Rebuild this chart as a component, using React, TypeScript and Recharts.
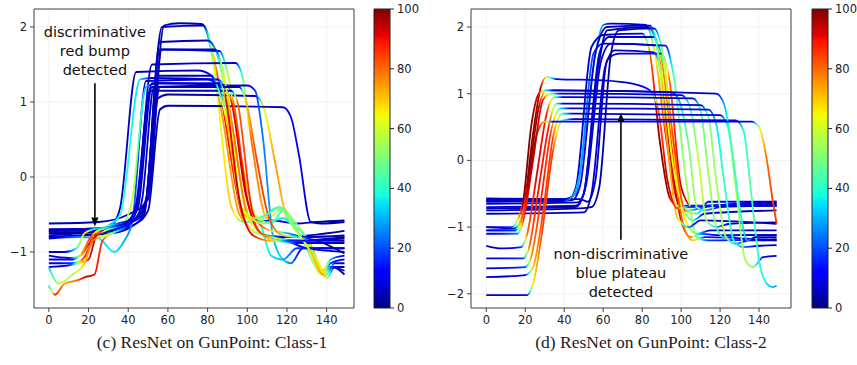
import {
  Bar,
  BarChart,
  CartesianGrid,
  Line,
  LineChart,
  ReferenceArea,
  ReferenceLine,
  XAxis,
  YAxis,
} from 'recharts';

// One point of a GunPoint series: [time step, value, attribution 0–100].
type Pt = [number, number, number];

const X_TICKS = [0, 20, 40, 60, 80, 100, 120, 140];
const CLASS1_Y_TICKS = [-1, 0, 1, 2];
const CLASS2_Y_TICKS = [-2, -1, 0, 1, 2];
const CBAR_TICKS = [0, 20, 40, 60, 80, 100];

const CLASS1_NOTE = ['discriminative', 'red bump', 'detected'];
const CLASS2_NOTE = ['non-discriminative', 'blue plateau', 'detected'];

const CLASS1_CAPTION = '(c) ResNet on GunPoint: Class-1';
const CLASS2_CAPTION = '(d) ResNet on GunPoint: Class-2';

// Class-1 samples.
const class1Series: Pt[][] = [
  [[0, -0.62, 5], [25, -0.6, 5], [40, -0.5, 6], [50, -0.3, 6], [58, 2.02, 5], [66, 2.05, 3], [77, 2.04, 5], [80, 1.9, 25], [83, 1.5, 60], [92, -0.4, 70], [98, -0.6, 45], [112, -0.58, 12], [125, -0.62, 5], [135, -0.6, 3], [149, -0.58, 3]],
  [[0, -0.72, 5], [28, -0.7, 6], [40, -0.62, 8], [48, -0.45, 6], [57, 2.0, 5], [78, 2.02, 5], [81, 1.85, 50], [86, 1.2, 90], [98, -0.55, 85], [105, -0.75, 60], [118, -0.8, 6], [149, -0.72, 3]],
  [[0, -0.75, 5], [30, -0.72, 6], [42, -0.6, 12], [48, -0.5, 8], [56, 1.8, 5], [80, 1.82, 5], [84, 1.7, 30], [90, 1.0, 75], [101, -0.55, 70], [110, -0.8, 40], [125, -0.85, 6], [149, -0.8, 3]],
  [[0, -0.8, 5], [32, -0.75, 6], [44, -0.62, 8], [48, -0.5, 6], [56, 1.7, 5], [86, 1.68, 12], [90, 1.4, 55], [96, 0.4, 75], [104, -0.5, 65], [112, -0.62, 45], [118, -0.45, 40], [124, -0.6, 50], [132, -0.9, 70], [138, -1.25, 80], [142, -1.1, 30], [149, -1.05, 5]],
  [[0, -0.7, 5], [30, -0.68, 6], [40, -0.58, 8], [44, -0.4, 8], [52, 1.5, 6], [94, 1.52, 6], [97, 1.4, 40], [102, 0.5, 80], [110, -0.55, 70], [118, -0.42, 50], [125, -0.7, 55], [135, -1.1, 75], [140, -1.35, 60], [144, -1.2, 6], [149, -1.2, 3]],
  [[0, -0.8, 5], [26, -0.75, 6], [32, -0.65, 8], [36, -0.4, 6], [44, 1.4, 5], [75, 1.42, 5], [82, 1.35, 12], [86, 1.0, 75], [96, -0.5, 75], [105, -0.75, 55], [115, -0.8, 15], [130, -0.95, 5], [149, -1.0, 3]],
  [[0, -0.78, 5], [24, -0.72, 12], [30, -0.65, 30], [36, -0.5, 40], [46, 1.3, 35], [52, 1.32, 6], [85, 1.3, 6], [90, 1.1, 60], [97, -0.4, 65], [104, -0.62, 55], [114, -0.42, 45], [120, -0.5, 55], [128, -0.85, 40], [138, -1.3, 70], [142, -1.15, 15], [149, -1.1, 3]],
  [[0, -0.72, 5], [30, -0.7, 5], [42, -0.6, 6], [48, -0.45, 6], [55, 1.05, 5], [60, 1.1, 3], [104, 1.08, 6], [108, 0.95, 60], [114, 0.2, 75], [120, -0.55, 70], [128, -0.75, 40], [135, -1.1, 60], [140, -1.3, 70], [144, -1.15, 12], [149, -1.15, 3]],
  [[0, -0.75, 3], [30, -0.73, 3], [44, -0.62, 5], [50, -0.45, 5], [56, 0.9, 3], [60, 0.95, 3], [118, 0.93, 5], [122, 0.8, 12], [126, 0.3, 12], [132, -0.6, 5], [137, -0.62, 3], [149, -0.6, 3]],
  [[0, -0.7, 5], [30, -0.68, 6], [40, -0.6, 8], [45, -0.4, 6], [52, 1.2, 5], [100, 1.22, 6], [104, 1.15, 18], [108, 0.5, 25], [113, -0.8, 30], [118, -1.1, 35], [122, -1.15, 25], [128, -0.95, 8], [149, -0.95, 5]],
  [[0, -0.82, 6], [15, -0.8, 25], [25, -0.82, 35], [33, -1.0, 35], [38, -0.85, 30], [42, -0.6, 25], [49, 1.28, 6], [80, 1.3, 6], [86, 1.2, 18], [90, 0.8, 70], [98, -0.5, 75], [106, -0.6, 40], [112, -1.05, 35], [118, -1.1, 30], [125, -0.95, 18], [149, -0.95, 5]],
  [[0, -1.05, 5], [10, -1.08, 8], [16, -1.05, 70], [20, -0.9, 90], [24, -0.72, 75], [30, -0.68, 40], [38, -0.6, 50], [42, -0.3, 60], [49, 1.2, 30], [55, 1.25, 6], [90, 1.22, 6], [93, 1.0, 80], [100, -0.3, 92], [107, -0.75, 88], [115, -0.82, 60], [125, -0.85, 18], [149, -0.82, 3]],
  [[0, -1.15, 5], [12, -1.15, 18], [17, -1.1, 85], [22, -0.85, 95], [26, -0.7, 70], [35, -0.62, 18], [44, -0.55, 6], [47, -0.3, 8], [53, 1.2, 5], [88, 1.2, 6], [92, 1.0, 90], [99, -0.2, 95], [106, -0.72, 85], [114, -0.85, 60], [125, -0.88, 12], [149, -0.88, 3]],
  [[0, -1.2, 5], [10, -1.18, 8], [15, -1.15, 60], [20, -1.1, 90], [24, -0.78, 95], [30, -0.7, 50], [40, -0.6, 8], [44, -0.35, 6], [51, 1.15, 5], [92, 1.15, 6], [95, 1.0, 80], [103, -0.5, 90], [110, -0.7, 75], [120, -0.75, 30], [130, -0.8, 6], [149, -0.78, 3]],
  [[0, -1.0, 5], [8, -1.0, 6], [14, -0.95, 40], [18, -0.75, 70], [22, -0.7, 40], [35, -0.65, 8], [46, -0.5, 6], [50, -0.2, 6], [57, 1.7, 5], [84, 1.7, 6], [87, 1.5, 55], [93, 0.6, 80], [100, -0.5, 75], [108, -0.62, 50], [118, -0.55, 35], [126, -0.75, 45], [133, -1.05, 60], [139, -1.32, 70], [143, -1.2, 6], [149, -1.3, 3]],
  [[0, -1.1, 5], [12, -1.1, 12], [17, -1.0, 75], [21, -0.8, 85], [26, -0.7, 45], [38, -0.62, 6], [46, -0.5, 6], [50, -0.2, 6], [56, 1.2, 5], [96, 1.2, 5], [99, 1.05, 70], [105, 0.2, 85], [111, -0.55, 85], [118, -0.78, 70], [126, -0.8, 30], [135, -0.85, 6], [149, -1.02, 3]],
  [[0, -1.2, 30], [5, -1.42, 60], [12, -1.3, 55], [18, -1.15, 70], [22, -0.85, 80], [28, -0.78, 60], [36, -0.7, 18], [45, -0.5, 8], [50, -0.2, 6], [55, 1.35, 5], [82, 1.35, 5], [85, 1.2, 40], [90, 0.7, 70], [97, -0.4, 70], [104, -0.55, 50], [110, -0.5, 40], [116, -0.4, 45], [124, -0.7, 55], [132, -1.0, 70], [138, -1.3, 75], [142, -1.2, 18], [149, -1.25, 3]],
  [[0, -1.45, 35], [3, -1.57, 90], [8, -1.42, 75], [14, -1.38, 80], [19, -1.33, 95], [23, -1.3, 90], [27, -0.85, 85], [32, -0.75, 50], [40, -0.65, 12], [44, -0.45, 8], [52, 1.25, 6], [86, 1.25, 6], [89, 1.05, 90], [96, -0.3, 95], [103, -0.78, 90], [112, -0.85, 70], [120, -0.85, 18], [149, -0.85, 3]],
];

// Class-2 samples.
const class2Series: Pt[][] = [
  [[0, -0.57, 6], [40, -0.58, 6], [46, -0.5, 25], [50, 0.2, 35], [56, 1.6, 35], [60, 2.03, 25], [64, 2.05, 6], [82, 2.03, 8], [86, 1.7, 60], [92, 0.4, 90], [98, -0.6, 88], [104, -0.75, 40], [112, -0.7, 6], [149, -0.62, 5]],
  [[0, -0.6, 6], [44, -0.6, 6], [48, -0.4, 8], [56, 1.6, 6], [62, 2.0, 5], [84, 2.02, 6], [88, 1.7, 70], [94, 0.2, 95], [100, -0.9, 90], [105, -1.15, 80], [110, -1.1, 25], [118, -1.12, 6], [149, -1.12, 5]],
  [[0, -0.62, 6], [42, -0.6, 6], [46, -0.4, 8], [54, 1.7, 6], [60, 1.88, 5], [80, 1.9, 6], [84, 1.6, 80], [89, 0.3, 100], [94, -0.55, 95], [98, -0.68, 60], [104, -0.68, 6], [149, -0.68, 5]],
  [[0, -0.7, 6], [46, -0.68, 6], [50, -0.5, 8], [58, 1.6, 6], [63, 1.85, 5], [86, 1.85, 8], [90, 1.5, 75], [96, 0.0, 88], [101, -0.95, 80], [106, -1.2, 70], [112, -1.15, 15], [149, -1.2, 5]],
  [[0, -0.65, 6], [47, -0.63, 6], [51, -0.4, 8], [59, 1.5, 6], [64, 1.75, 5], [88, 1.72, 18], [92, 1.3, 65], [98, -0.3, 70], [103, -0.95, 65], [108, -1.1, 40], [115, -1.05, 6], [149, -1.05, 5]],
  [[0, -0.8, 6], [50, -0.78, 6], [54, -0.5, 8], [61, 1.4, 6], [66, 1.65, 5], [86, 1.62, 8], [90, 1.3, 60], [96, -0.1, 65], [101, -0.72, 60], [106, -0.9, 40], [112, -0.8, 8], [149, -0.75, 5]],
  [[0, -0.58, 6], [48, -0.58, 5], [52, -0.62, 5], [56, -0.3, 6], [62, 1.5, 5], [68, 1.6, 5], [90, 1.6, 18], [94, 1.2, 80], [100, -0.4, 95], [106, -0.7, 85], [112, -0.68, 15], [149, -0.66, 5]],
  [[0, -0.75, 3], [48, -0.72, 3], [54, -0.7, 3], [58, -0.4, 3], [64, 1.6, 3], [68, 1.95, 5], [86, 1.98, 6], [90, 1.7, 50], [96, 0.3, 85], [102, -0.75, 80], [108, -0.8, 40], [114, -0.62, 12], [149, -0.62, 5]],
  [[0, -0.6, 6], [38, -0.62, 8], [44, -0.55, 30], [48, -0.2, 30], [55, 1.6, 18], [60, 1.75, 6], [92, 1.72, 8], [96, 1.3, 45], [103, -0.4, 55], [108, -1.15, 50], [114, -1.2, 18], [149, -1.18, 5]],
  [[0, -0.72, 6], [46, -0.7, 6], [50, -0.5, 8], [57, 1.3, 6], [62, 1.95, 5], [83, 2.0, 6], [87, 1.8, 40], [92, 0.5, 75], [98, -0.85, 70], [104, -1.0, 25], [110, -0.9, 6], [149, -0.95, 5]],
  [[0, -1.0, 6], [14, -1.02, 8], [17, -0.95, 45], [19, -0.75, 95], [24, 0.4, 100], [28, 1.1, 95], [31, 1.25, 60], [36, 1.22, 12], [60, 1.2, 6], [75, 1.15, 6], [84, 1.05, 12], [88, 0.8, 80], [93, -0.3, 95], [98, -0.72, 85], [104, -0.7, 18], [149, -0.65, 5]],
  [[0, -1.05, 6], [15, -1.05, 18], [18, -0.9, 80], [22, -0.2, 100], [27, 0.8, 95], [31, 1.05, 55], [35, 1.05, 8], [95, 1.02, 6], [99, 0.9, 30], [104, 0.2, 50], [108, -0.7, 55], [112, -0.75, 30], [120, -0.7, 6], [149, -0.68, 5]],
  [[0, -1.1, 6], [16, -1.1, 25], [19, -0.9, 85], [24, 0.0, 95], [29, 0.9, 90], [33, 1.0, 50], [38, 1.0, 6], [100, 0.98, 6], [104, 0.85, 40], [109, 0.0, 60], [113, -0.9, 55], [118, -1.0, 30], [125, -0.95, 6], [149, -0.93, 5]],
  [[0, -1.28, 5], [8, -1.32, 5], [18, -1.3, 18], [21, -1.1, 80], [26, -0.2, 92], [31, 0.7, 88], [35, 0.95, 45], [40, 0.95, 6], [106, 0.93, 6], [110, 0.75, 45], [114, -0.2, 55], [118, -1.0, 50], [122, -1.15, 30], [130, -1.12, 8], [149, -1.12, 5]],
  [[0, -1.47, 5], [19, -1.47, 18], [22, -1.3, 80], [27, -0.4, 90], [32, 0.5, 88], [36, 0.85, 40], [40, 0.85, 6], [110, 0.83, 6], [114, 0.65, 50], [118, -0.3, 55], [123, -1.15, 55], [128, -1.25, 30], [135, -1.2, 8], [149, -1.2, 5]],
  [[0, -1.62, 5], [20, -1.6, 18], [23, -1.45, 75], [28, -0.6, 88], [33, 0.4, 85], [38, 0.78, 35], [44, 0.78, 6], [114, 0.76, 8], [118, 0.55, 35], [122, -0.3, 40], [127, -1.2, 40], [132, -1.3, 25], [140, -1.28, 6], [149, -1.27, 5]],
  [[0, -1.75, 5], [20, -1.72, 12], [24, -1.6, 70], [29, -0.8, 85], [34, 0.3, 85], [39, 0.7, 40], [45, 0.7, 6], [120, 0.68, 8], [124, 0.5, 45], [128, -0.4, 55], [133, -1.5, 55], [137, -1.6, 50], [142, -1.45, 12], [149, -1.43, 5]],
  [[0, -2.02, 5], [21, -2.02, 12], [24, -1.85, 65], [29, -1.0, 85], [34, 0.1, 85], [39, 0.6, 45], [45, 0.62, 6], [128, 0.6, 12], [132, 0.45, 40], [136, -0.5, 45], [140, -1.5, 40], [144, -1.85, 35], [147, -1.9, 30], [149, -1.88, 25]],
  [[0, -1.0, 6], [13, -1.0, 18], [16, -0.9, 65], [19, -0.6, 100], [23, 0.5, 100], [27, 1.0, 90], [30, 1.05, 40], [35, 1.05, 6], [118, 1.0, 6], [122, 0.85, 30], [126, 0.2, 45], [130, -0.7, 40], [134, -1.2, 30], [138, -1.15, 8], [149, -1.15, 5]],
  [[0, -1.05, 6], [15, -1.05, 18], [17, -0.95, 70], [21, -0.5, 95], [26, 0.4, 95], [30, 0.58, 70], [34, 0.58, 12], [136, 0.58, 6], [140, 0.5, 60], [144, 0.0, 80], [147, -0.6, 85], [149, -0.95, 85]],
];

// matplotlib's "jet" segment data
const JET: [number, number][][] = [
  [[0, 0], [0.35, 0], [0.66, 1], [0.89, 1], [1, 0.5]],
  [[0, 0], [0.125, 0], [0.375, 1], [0.64, 1], [0.91, 0], [1, 0]],
  [[0, 0.5], [0.11, 1], [0.34, 1], [0.65, 0], [1, 0]],
];
const JET_BREAKS = [0, 0.11, 0.125, 0.34, 0.35, 0.375, 0.64, 0.65, 0.66, 0.89, 0.91, 1];

function jet(c: number): string {
  const t = Math.min(1, Math.max(0, c / 100));
  const ch = JET.map((seg) => {
    for (let i = 1; i < seg.length; i++) {
      const [x0, y0] = seg[i - 1];
      const [x1, y1] = seg[i];
      if (t <= x1) return Math.round(255 * (y0 + ((y1 - y0) * (t - x0)) / (x1 - x0 || 1)));
    }
    return Math.round(255 * seg[seg.length - 1][1]);
  });
  return `rgb(${ch[0]},${ch[1]},${ch[2]})`;
}

/** Horizontal gradient stops following the attribution along the series. */
function gradientStops(pts: Pt[]) {
  const x0 = pts[0][0];
  const span = pts[pts.length - 1][0] - x0;
  const out: { o: number; c: string }[] = [];
  pts.forEach(([x, , c], i) => {
    if (i > 0) {
      const [px, , pc] = pts[i - 1];
      for (let k = 1; k < 4; k++) {
        const f = k / 4;
        out.push({ o: (px + (x - px) * f - x0) / span, c: jet(pc + (c - pc) * f) });
      }
    }
    out.push({ o: (x - x0) / span, c: jet(c) });
  });
  return out;
}

const fmt = (v: number) => (v < 0 ? `\u2212${Math.abs(v)}` : `${v}`);

const TICK = { fontFamily: 'DejaVu Sans', fontSize: 11.5, fill: '#222' };
const FRAME = '#444';

function ArrowNote({ x1, y1, x2, y2, lines }: any) {
  const dir = y2 > y1 ? 1 : -1;
  const head = 9;
  const half = 3.6;
  const baseY = y2 - dir * head;
  return (
    <g>
      <line x1={x1} y1={y1} x2={x2} y2={baseY} stroke="#000" strokeWidth={1.6} />
      <polygon points={`${x2},${y2} ${x2 - half},${baseY} ${x2 + half},${baseY}`} fill="#000" />
      {lines.map((t: string, i: number) => (
        <text
          key={t}
          x={x1}
          y={dir > 0 ? y1 - 13 - (lines.length - 1 - i) * 19 : y1 + 14 + i * 19}
          textAnchor="middle"
          dominantBaseline="central"
          fontFamily="DejaVu Sans"
          fontSize={14.5}
          fill="#111"
        >
          {t}
        </text>
      ))}
    </g>
  );
}

interface PanelProps {
  id: string;
  series: Pt[][];
  xDomain: [number, number];
  yDomain: [number, number];
  yTicks: number[];
  arrow: { x: number; from: number; to: number };
  note: string[];
}

function Panel({ id, series, xDomain, yDomain, yTicks, arrow, note }: PanelProps) {
  return (
    <LineChart width={360} height={340} margin={{ top: 9, right: 6, bottom: 0, left: 0 }}>
      <defs>
        {series.map((pts, i) => (
          <linearGradient key={i} id={`${id}-g${i}`} x1="0" y1="0" x2="1" y2="0">
            {gradientStops(pts).map((s, k) => (
              <stop key={k} offset={s.o} stopColor={s.c} />
            ))}
          </linearGradient>
        ))}
      </defs>
      <CartesianGrid stroke="#f2f2f2" />
      <XAxis
        dataKey="x"
        type="number"
        domain={xDomain}
        allowDataOverflow
        ticks={X_TICKS}
        height={32}
        tick={TICK}
        tickSize={4}
        tickMargin={4}
        tickLine={{ stroke: FRAME }}
        axisLine={false}
      />
      <YAxis
        type="number"
        domain={yDomain}
        allowDataOverflow
        ticks={yTicks}
        width={34}
        tick={TICK}
        tickSize={4}
        tickMargin={3}
        tickFormatter={fmt}
        tickLine={{ stroke: FRAME }}
        axisLine={false}
      />
      {series.map((pts, i) => (
        <Line
          key={i}
          data={pts.map(([x, y]) => ({ x, y }))}
          dataKey="y"
          type="monotone"
          stroke={`url(#${id}-g${i})`}
          strokeWidth={1.8}
          dot={false}
          activeDot={false}
          isAnimationActive={false}
        />
      ))}
      <ReferenceLine
        segment={[
          { x: arrow.x, y: arrow.from },
          { x: arrow.x, y: arrow.to },
        ]}
        shape={(p: any) => <ArrowNote {...p} lines={note} />}
      />
      <ReferenceArea
        x1={xDomain[0]}
        x2={xDomain[1]}
        y1={yDomain[0]}
        y2={yDomain[1]}
        fill="none"
        fillOpacity={0}
        stroke={FRAME}
        strokeWidth={1}
      />
    </LineChart>
  );
}

function ColorBar({ id }: { id: string }) {
  return (
    <BarChart
      width={60}
      height={320}
      data={[{ k: 'scale', v: 100 }]}
      margin={{ top: 9, right: 0, bottom: 12, left: 4 }}
      barCategoryGap={0}
    >
      <defs>
        <linearGradient id={id} x1="0" y1="1" x2="0" y2="0">
          {JET_BREAKS.map((b) => (
            <stop key={b} offset={b} stopColor={jet(b * 100)} />
          ))}
        </linearGradient>
      </defs>
      <XAxis dataKey="k" hide />
      <YAxis
        orientation="right"
        domain={[0, 100]}
        ticks={CBAR_TICKS}
        width={40}
        tick={TICK}
        tickSize={4}
        tickMargin={3}
        tickLine={{ stroke: '#222' }}
        axisLine={false}
      />
      <Bar dataKey="v" fill={`url(#${id})`} stroke="#222" strokeWidth={1} isAnimationActive={false} />
    </BarChart>
  );
}

const captionStyle = {
  position: 'absolute' as const,
  top: 332,
  width: 300,
  textAlign: 'center' as const,
  fontFamily: '"Liberation Serif", serif',
  fontSize: 17.5,
  lineHeight: '20px',
  color: '#222',
};

export default function App() {
  return (
    <div style={{ position: 'absolute', left: 0, top: 0, width: 857, height: 365, background: '#fff', overflow: 'hidden' }}>
      <div style={{ position: 'absolute', left: 0, top: 0 }}>
        <Panel
          id="c1"
          series={class1Series}
          xDomain={[-7.5, 153.8]}
          yDomain={[-1.747, 2.24]}
          yTicks={CLASS1_Y_TICKS}
          arrow={{ x: 23.2, from: 1.25, to: -0.66 }}
          note={CLASS1_NOTE}
        />
      </div>
      <div style={{ position: 'absolute', left: 370, top: 0 }}>
        <ColorBar id="cbar1" />
      </div>
      <div style={{ position: 'absolute', left: 437, top: 0 }}>
        <Panel
          id="c2"
          series={class2Series}
          xDomain={[-7.85, 156.4]}
          yDomain={[-2.213, 2.27]}
          yTicks={CLASS2_Y_TICKS}
          arrow={{ x: 69.1, from: -1.19, to: 0.71 }}
          note={CLASS2_NOTE}
        />
      </div>
      <div style={{ position: 'absolute', left: 808, top: 0 }}>
        <ColorBar id="cbar2" />
      </div>
      <div style={{ ...captionStyle, left: 62 }}>{CLASS1_CAPTION}</div>
      <div style={{ ...captionStyle, left: 501 }}>{CLASS2_CAPTION}</div>
    </div>
  );
}
